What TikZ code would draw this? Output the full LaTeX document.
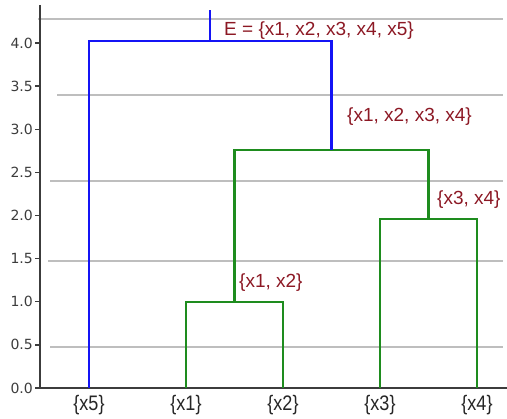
\documentclass[tikz,border=0pt]{standalone}
\usepackage{fontspec}
\setmainfont{Liberation Sans}
\newfontfamily\dvfont{DejaVu Sans}
\definecolor{lblred}{RGB}{140,24,36}
\definecolor{dblue}{RGB}{20,20,245}
\definecolor{dgreen}{RGB}{30,140,30}
\definecolor{gline}{RGB}{190,190,190}
\definecolor{axisc}{RGB}{60,60,60}
\definecolor{tickc}{RGB}{60,60,60}
\tikzset{
  guide/.style={draw=gline, line width=2.6pt},
  bluelink/.style={draw=dblue, line width=2.2pt},
  greenlink/.style={draw=dgreen, line width=2.2pt},
  axisline/.style={draw=axisc, line width=1.3pt},
  clusterlabel/.style={text=lblred, anchor=west, inner sep=0pt, font=\fontsize{19}{19}\selectfont},
  leaflabel/.style={text=black!85, inner sep=0pt, font=\fontsize{21}{21}\selectfont, xscale=0.86, transform shape},
  ticklabel/.style={text=tickc, anchor=east, inner sep=0pt, font=\dvfont\fontsize{14}{14}\selectfont},
}
\begin{document}
\begin{tikzpicture}[x=1pt, y=-1pt]
\useasboundingbox (0,0) rectangle (507,419);
% guide lines
\draw[guide] (38,19) -- (503,19);
\draw[guide] (57,95) -- (503,95);
\draw[guide] (50,181) -- (503,181);
\draw[guide] (48,261) -- (503,261);
\draw[guide] (50,347) -- (503,347);
% axes
\coordinate (axtop) at (40,5);
\coordinate (orig) at (40,388);
\coordinate (axright) at (507,388);
\draw[axisline] (axtop) -- (orig) -- (axright);
\foreach \i/\v/\t in {0/0/0.0,1/0.5/0.5,2/1/1.0,3/1.5/1.5,4/2/2.0,5/2.5/2.5,6/3/3.0,7/3.5/3.5,8/4/4.0}{
  \coordinate (tk\i) at (40,{388-86.25*\v});
  \draw[axisline] (tk\i) -- ++(-5,0);
  \node[ticklabel] (tl\i) at ([xshift=-7pt]tk\i) {\t};
}
% leaves
\coordinate (x5) at (89,388);
\coordinate (x1) at (186,388);
\coordinate (x2) at (283,388);
\coordinate (x3) at (380,388);
\coordinate (x4) at (477,388);
% link corners
\coordinate (x1t) at (186,302);
\coordinate (x2t) at (283,302);
\coordinate (x3t) at (380,219);
\coordinate (x4t) at (477,219);
\coordinate (c12) at (234.5,302);
\coordinate (c34) at (428.5,219);
\coordinate (c12t) at (234.5,150);
\coordinate (c34t) at (428.5,150);
\coordinate (c1234) at (331.5,150);
\coordinate (x5t) at (89,41);
\coordinate (c1234t) at (331.5,41);
\coordinate (root) at (210.25,41);
\coordinate (roottop) at (210.25,10);
% links
\draw[greenlink] (x1) -- (x1t) -- (x2t) -- (x2);
\draw[greenlink] (x3) -- (x3t) -- (x4t) -- (x4);
\draw[greenlink] (c12) -- (c12t) -- (c34t) -- (c34);
\draw[bluelink] (x5) -- (x5t) -- (c1234t) -- (c1234);
\draw[bluelink] (root) -- (roottop);
% cluster labels
\node[clusterlabel] (lE) at (224,31) {E = \{x1, x2, x3, x4, x5\}};
\node[clusterlabel] (l1234) at (347,117) {\{x1, x2, x3, x4\}};
\node[clusterlabel] (l34) at (437,200) {\{x3, x4\}};
\node[clusterlabel] (l12) at (239,283) {\{x1, x2\}};
% leaf labels
\node[leaflabel] (n5) at (89,405) {\{x5\}};
\node[leaflabel] (n1) at (186,405) {\{x1\}};
\node[leaflabel] (n2) at (283,405) {\{x2\}};
\node[leaflabel] (n3) at (380,405) {\{x3\}};
\node[leaflabel] (n4) at (477,405) {\{x4\}};
\end{tikzpicture}
\end{document}
